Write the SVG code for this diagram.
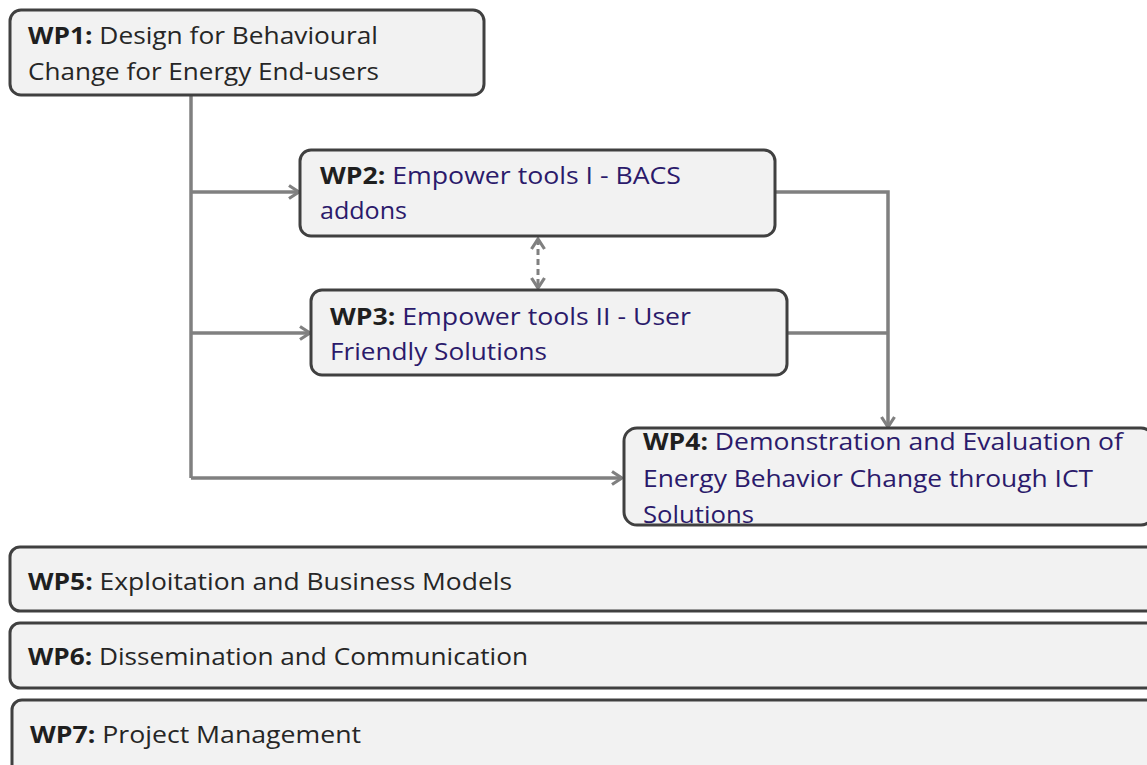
<svg xmlns="http://www.w3.org/2000/svg" width="1147" height="765" viewBox="0 0 1147 765">
  <defs>
    <style>
      .box { fill: #f2f2f2; stroke: #404040; stroke-width: 3; }
      .t { font-family: "Open Sans", "Liberation Sans", sans-serif; font-size: 24px; fill: #262626; }
      .b { font-weight: bold; fill: #1f1f1f; }
      .p { fill: #2b1a6b; }
      .c { fill: none; stroke: #808080; stroke-width: 3.5; }
      .d { fill: none; stroke: #808080; stroke-width: 3; stroke-dasharray: 6 4; }
    </style>
    <marker id="arr" viewBox="0 0 14 16" refX="12" refY="8" markerWidth="14" markerHeight="16" markerUnits="userSpaceOnUse" orient="auto-start-reverse">
      <path d="M2,1.5 L12,8 L2,14.5" fill="none" stroke="#808080" stroke-width="3.2"/>
    </marker>
  </defs>

  <!-- connectors -->
  <g id="connectors">
    <path class="c" d="M191,95 V478"/>
    <path class="c" d="M191,192 H299" marker-end="url(#arr)"/>
    <path class="c" d="M191,333 H310" marker-end="url(#arr)"/>
    <path class="c" d="M191,478 H622" marker-end="url(#arr)"/>
    <path class="c" d="M775,192 H888 V427" marker-end="url(#arr)"/>
    <path class="c" d="M787,333 H888"/>
    <path class="d" d="M538,239 V288" marker-start="url(#arr)" marker-end="url(#arr)"/>
  </g>

  <g id="wp1">
    <rect class="box" x="10" y="10" width="474" height="85" rx="11"/>
    <text class="t" x="28" y="44" textLength="350" lengthAdjust="spacingAndGlyphs"><tspan class="b">WP1:</tspan> Design for Behavioural</text>
    <text class="t" x="28" y="80" textLength="351" lengthAdjust="spacingAndGlyphs">Change for Energy End-users</text>
  </g>

  <g id="wp2">
    <rect class="box" x="300" y="150" width="475" height="86" rx="11"/>
    <text class="t" x="320" y="184" textLength="361" lengthAdjust="spacingAndGlyphs"><tspan class="b">WP2:</tspan><tspan class="p"> Empower tools I - BACS</tspan></text>
    <text class="t p" x="320" y="219" textLength="87" lengthAdjust="spacingAndGlyphs">addons</text>
  </g>

  <g id="wp3">
    <rect class="box" x="311" y="290" width="476" height="85" rx="11"/>
    <text class="t" x="330" y="325" textLength="361" lengthAdjust="spacingAndGlyphs"><tspan class="b">WP3:</tspan><tspan class="p"> Empower tools II - User</tspan></text>
    <text class="t p" x="330" y="360" textLength="217" lengthAdjust="spacingAndGlyphs">Friendly Solutions</text>
  </g>

  <g id="wp4">
    <rect class="box" x="624" y="428" width="530" height="97" rx="13"/>
    <text class="t" x="643" y="450" textLength="480" lengthAdjust="spacingAndGlyphs"><tspan class="b">WP4:</tspan><tspan class="p"> Demonstration and Evaluation of</tspan></text>
    <text class="t p" x="643" y="487" textLength="450" lengthAdjust="spacingAndGlyphs">Energy Behavior Change through ICT</text>
    <text class="t p" x="643" y="523" textLength="111" lengthAdjust="spacingAndGlyphs">Solutions</text>
  </g>

  <g id="wp5">
    <rect class="box" x="10" y="547" width="1150" height="64" rx="10"/>
    <text class="t" x="28" y="590" textLength="484" lengthAdjust="spacingAndGlyphs"><tspan class="b">WP5:</tspan> Exploitation and Business Models</text>
  </g>

  <g id="wp6">
    <rect class="box" x="10" y="623" width="1150" height="65" rx="10"/>
    <text class="t" x="28" y="665" textLength="500" lengthAdjust="spacingAndGlyphs"><tspan class="b">WP6:</tspan> Dissemination and Communication</text>
  </g>

  <g id="wp7">
    <rect class="box" x="12" y="700" width="1150" height="80" rx="10"/>
    <text class="t" x="30" y="743" textLength="331" lengthAdjust="spacingAndGlyphs"><tspan class="b">WP7:</tspan> Project Management</text>
  </g>
</svg>
